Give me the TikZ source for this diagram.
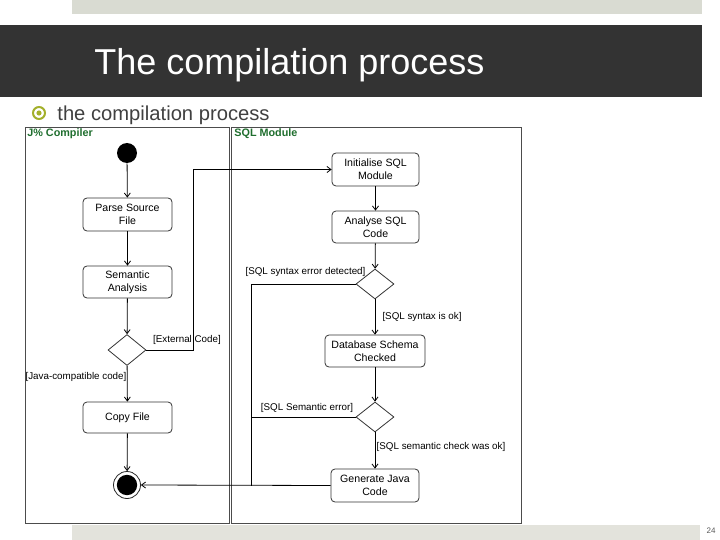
\documentclass[tikz,border=0pt]{standalone}
\usepackage{fontspec}
\setmainfont{Liberation Sans}
\usetikzlibrary{shapes.geometric,arrows.meta}
\definecolor{slidebar}{HTML}{333333}
\definecolor{topbar}{HTML}{D9DBD2}
\definecolor{footbar}{HTML}{E3E3DC}
\definecolor{lanegreen}{HTML}{1F6E2E}
\definecolor{bulletolive}{HTML}{A3B02B}
\tikzset{>={Straight Barb[length=4pt,width=6pt]}}
\tikzset{
	action/.style={draw=black!80, rounded corners=4pt, align=center, font=\fontsize{10.6}{13}\selectfont, inner sep=1pt},
	choice/.style={draw=black!80, diamond, minimum width=38pt, minimum height=31pt, inner sep=0pt},
	guard/.style={font=\fontsize{9.8}{11}\selectfont, inner sep=0pt},
	lane/.style={draw=black!70, line width=1pt},
	lanename/.style={font=\fontsize{10.8}{12}\selectfont\bfseries, text=lanegreen, anchor=west, inner sep=0pt},
}

\begin{document}
\begin{tikzpicture}[x=1pt, y=-1pt, line width=0.8pt]
%	\draw[help lines] (0,0) grid[step=20] (720,540);
	\useasboundingbox (0,0) rectangle (720,540);
	\fill [topbar] (72,0) rectangle (702,14);
	\fill [slidebar] (0,25) rectangle (702,97);
	\fill [footbar] (72,525) rectangle (700,540);
	\node [anchor=base west, text=white, font=\fontsize{36}{40}\selectfont, inner sep=0pt] (title) at (94,75) {The compilation process};
	\draw [bulletolive, line width=2pt] (39,113) circle [radius=6];
	\fill [bulletolive] (39,113) circle [radius=2.6];
	\node [anchor=base west, text=black!75, font=\fontsize{20.2}{22}\selectfont, inner sep=0pt] (sub) at (57,121) {the compilation process};
	\node [text=black!65, font=\fontsize{8}{9}\selectfont, inner sep=0pt] (page) at (711,531) {24};
	% swimlanes
	\draw [lane] (25,128) rectangle (229,523);
	\draw [lane] (231,128) rectangle (521,523);
	\node [lanename] (jlane) at (27,134) {J\% Compiler};
	\node [lanename] (slane) at (234,134) {SQL Module};
	% J% compiler
	\node [circle, fill=black, minimum size=20pt, inner sep=0pt] (begin) at (127,153) {};
	\node [action, minimum width=89pt, minimum height=33pt] (parse) at (127.5,214.5) {Parse Source\\File};
	\node [action, minimum width=89pt, minimum height=32pt] (sem) at (127.5,282) {Semantic\\Analysis};
	\node [choice] (ext) at (127,350) {};
	\node [action, minimum width=89pt, minimum height=31pt] (copy) at (127.5,417.5) {Copy File};
	\node [circle, draw=black!85, fill=white, minimum size=27pt, inner sep=0pt] (finish) at (127,485) {};
	\fill (finish) circle [radius=10.2];
	% SQL module
	\node [action, minimum width=87pt, minimum height=33pt] (init) at (375.5,169.5) {Initialise SQL\\Module};
	\node [action, minimum width=87pt, minimum height=32pt] (analyse) at (375.5,227) {Analyse SQL\\Code};
	\node [choice, minimum height=30pt] (syntax) at (375,284) {};
	\node [action, minimum width=100pt, minimum height=32pt] (schema) at (375,351) {Database Schema\\Checked};
	\node [choice, minimum height=30pt] (check) at (375,417) {};
	\node [action, minimum width=88pt, minimum height=33pt] (gen) at (375,485.5) {Generate Java\\Code};
	\coordinate (up) at (193,169.5);
	\coordinate (err) at (251,485.5);
	% flows
	\draw [->] (begin) -- (parse);
	\draw [->] (parse) -- (sem);
	\draw [->] (sem) -- (ext);
	\draw [->] (ext) -- (copy);
	\draw [->] (copy) -- (finish);
	\draw [->] (ext.east) -| (up) -- (init.west);
	\draw [->] (init) -- (analyse);
	\draw [->] (analyse) -- (syntax);
	\draw [->] (syntax) -- (schema);
	\draw [->] (schema) -- (check);
	\draw [->] (check) -- (gen);
	\draw (syntax.west) -| (err);
	\draw (check.west) -- (check.west -| err);
	\draw [->] (gen.west) -- (finish.east);
	% guards
	\node [guard] (gext) at (187,340) {[External Code]};
	\node [guard] (gjava) at (76,377) {[Java-compatible code]};
	\node [guard] (gerr) at (305.5,272) {[SQL syntax error detected]};
	\node [guard] (gok) at (422,317) {[SQL syntax is ok]};
	\node [guard] (gsem) at (307,408) {[SQL Semantic error]};
	\node [guard] (gcheck) at (441,447) {[SQL semantic check was ok]};
\end{tikzpicture}
\end{document}
